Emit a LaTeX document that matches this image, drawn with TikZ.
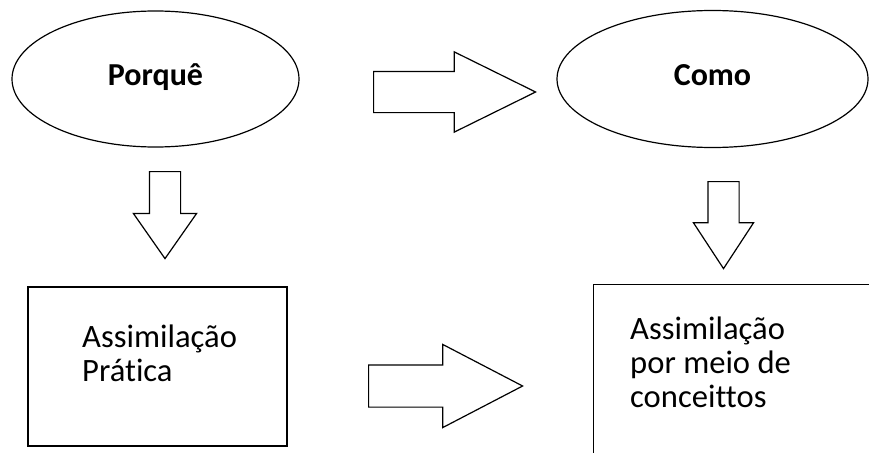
\documentclass[tikz,border=0pt]{standalone}
\usepackage{fontspec}
\setmainfont{Carlito}[Ligatures=NoCommon]
\usetikzlibrary{shapes,arrows,positioning}

\begin{document}
\begin{tikzpicture}[x=1pt, y=-1pt,
    oval/.style={ellipse, draw, line width=1.2pt, inner sep=0pt, font=\fontsize{32}{34}\selectfont\bfseries, text height=12pt, text depth=0pt},
    box/.style={rectangle, draw, line width=1.2pt, inner sep=0pt},
    boxtext/.style={anchor=base west, align=left, inner sep=0pt, font=\fontsize{32.6}{34}\selectfont},
    blockarrow/.style={single arrow, draw, line width=1.2pt, fill=white, anchor=tail}
]
    \clip (0,0) rectangle (869,452);

    % Ovais
    \node[oval, minimum width=287, minimum height=136] (porque) at (155.5,79) {Porquê};
    \node[oval, minimum width=311, minimum height=137] (como) at (712.5,79) {Como};

    % Caixas
    \node[box, minimum width=259, minimum height=159] (boxL) at (157.5,366.5) {};
    \node[boxtext] (txtL) at (82,381) {Assimilação\\Prática};
    \node[box, anchor=north west, minimum width=320, minimum height=220] (boxR) at (593,284) {};
    \node[boxtext] (txtR) at (630,407) {Assimilação\\por meio de\\conceittos};

    % Setas
    \node[blockarrow, inner sep=20, minimum height=162, single arrow head extend=19.5, single arrow tip angle=52.5] (a1) at (373,92) {};
    \node[blockarrow, inner sep=15, shape border rotate=270, minimum height=87, single arrow head extend=16, single arrow tip angle=70] (a2) at (165,171) {};
    \node[blockarrow, inner sep=15, shape border rotate=270, minimum height=87, single arrow head extend=14.5, single arrow tip angle=66.5] (a3) at (723.5,181) {};
    \node[blockarrow, inner sep=20.5, minimum height=154, single arrow head extend=20.5, single arrow tip angle=55] (a4) at (368,386) {};
\end{tikzpicture}
\end{document}
